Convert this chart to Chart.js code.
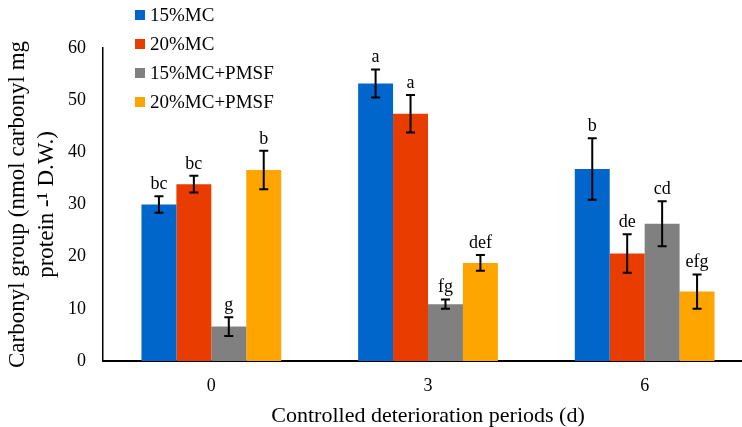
<!DOCTYPE html>
<html>
<head>
<meta charset="utf-8">
<script src="https://cdn.jsdelivr.net/npm/chart.js@4"></script>
<style>
  html, body { margin: 0; padding: 0; background: #fff; overflow: hidden; width: 742px; height: 427px; }
  #wrap { position: relative; width: 755px; height: 427px; }
  #legend { position: absolute; left: 135px; top: 4px; font-family: 'Liberation Serif', serif; font-size: 19px; color: #000; }
  #legend div { height: 29px; line-height: 22px; white-space: nowrap; }
  #legend span { display: inline-block; width: 10px; height: 10px; margin-right: 5px; vertical-align: 1px; }
</style>
</head>
<body>
<div id="wrap">
  <canvas id="chart"></canvas>
  <div id="legend"></div>
</div>
<script>
const periods = ['0', '3', '6'];
const seriesNames = ['15%MC', '20%MC', '15%MC+PMSF', '20%MC+PMSF'];
const seriesColors = ['#0066cc', '#e83c00', '#808080', '#ffa500'];

const mc15 = [30.0, 53.2, 36.8];
const mc20 = [33.9, 47.4, 20.6];
const mc15p = [6.6, 10.9, 26.3];
const mc20p = [36.6, 18.8, 13.3];

const mc15Err = [1.6, 2.7, 5.9];
const mc20Err = [1.6, 3.6, 3.7];
const mc15pErr = [1.8, 0.9, 4.3];
const mc20pErr = [3.7, 1.5, 3.3];

const mc15Sig = ['bc', 'a', 'b'];
const mc20Sig = ['bc', 'a', 'de'];
const mc15pSig = ['g', 'fg', 'cd'];
const mc20pSig = ['b', 'def', 'efg'];

const values = [mc15, mc20, mc15p, mc20p];
const errors = [mc15Err, mc20Err, mc15pErr, mc20pErr];
const letters = [mc15Sig, mc20Sig, mc15pSig, mc20pSig];

const serif = "'Liberation Serif', 'Times New Roman', serif";

// error bars + significance letters
const errorBars = {
    id: 'errorBars',
    afterDatasetsDraw(chart) {
        const ctx = chart.ctx, y = chart.scales.y;
        ctx.save();
        ctx.strokeStyle = '#000'; ctx.lineWidth = 2;
        ctx.fillStyle = '#000'; ctx.font = '18px ' + serif;
        ctx.textAlign = 'center'; ctx.textBaseline = 'bottom';
        chart.data.datasets.forEach((ds, i) => {
            chart.getDatasetMeta(i).data.forEach((bar, j) => {
                const v = ds.data[j], e = errors[i][j];
                const top = y.getPixelForValue(v + e), bot = y.getPixelForValue(v - e);
                const x = bar.x;
                ctx.beginPath();
                ctx.moveTo(x, top); ctx.lineTo(x, bot);
                ctx.moveTo(x - 4.5, top); ctx.lineTo(x + 4.5, top);
                ctx.moveTo(x - 4.5, bot); ctx.lineTo(x + 4.5, bot);
                ctx.stroke();
                ctx.fillText(letters[i][j], x, top - 3);
            });
        });
        ctx.restore();
    }
};

new Chart(document.getElementById('chart'), {
    type: 'bar',
    data: {
        labels: periods,
        datasets: seriesNames.map((n, i) => ({
            label: n, data: values[i], backgroundColor: seriesColors[i],
            barPercentage: 1, categoryPercentage: 0.645
        }))
    },
    options: {
        responsive: true, maintainAspectRatio: false, animation: false,
        layout: { padding: { top: 48, right: 2, left: 0, bottom: 0 } },
        plugins: { legend: { display: false }, tooltip: { enabled: false } },
        scales: {
            x: {
                grid: { display: false, drawTicks: false },
                border: { color: '#000', width: 2 },
                ticks: { color: '#000', font: { family: serif, size: 18 }, padding: 14 },
                title: { display: true, text: 'Controlled deterioration periods (d)', color: '#000', font: { family: serif, size: 22 }, padding: { top: 4, bottom: -2 } },
                afterFit: s => { s.height = 66; }
            },
            y: {
                min: 0, max: 60,
                grid: { display: false, drawTicks: false },
                border: { color: '#000', width: 1.5 },
                ticks: { stepSize: 10, color: '#000', font: { family: serif, size: 18 }, padding: 17 },
                title: { display: true, text: ['Carbonyl group (nmol carbonyl mg', 'protein -\u00b9 D.W.)'], color: '#000', font: { family: serif, size: 23, lineHeight: 1.25 }, padding: { top: 4, bottom: 0 } },
                afterFit: s => { s.width = 103; }
            }
        }
    },
    plugins: [errorBars]
});

document.getElementById('legend').innerHTML = seriesNames.map((n, i) =>
    `<div><span style="background:${seriesColors[i]}"></span>${n}</div>`).join('');
</script>
</body>
</html>
